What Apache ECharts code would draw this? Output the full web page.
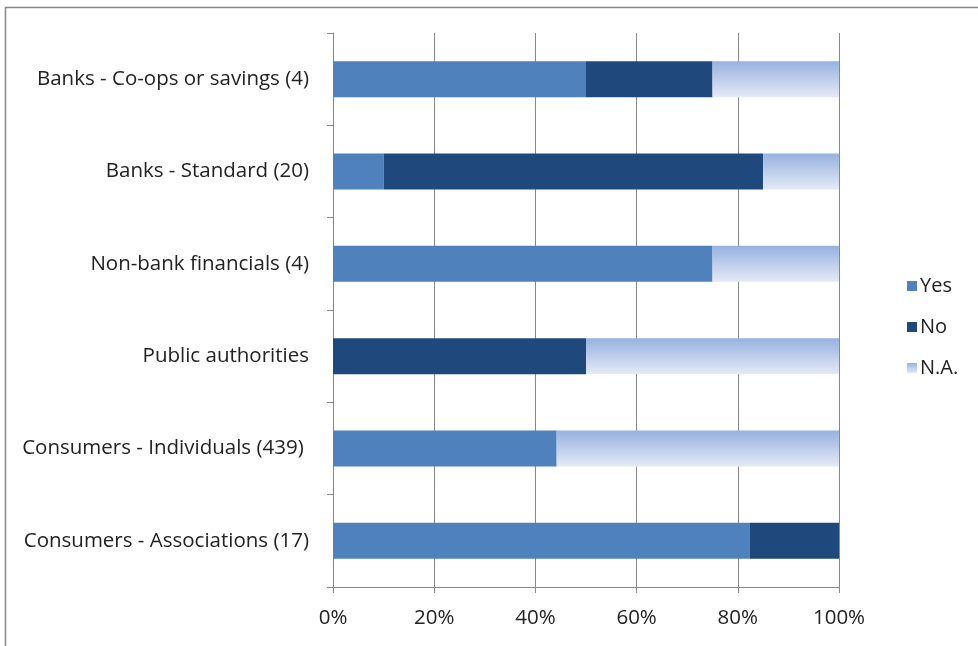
<!DOCTYPE html>
<html><head><meta charset="utf-8">
<script src="https://cdn.jsdelivr.net/npm/echarts@6/dist/echarts.min.js"></script>
<style>html,body{margin:0;padding:0;background:#fff}#c{width:978px;height:646px}</style>
</head><body><div id="c"></div>
<script>
const categories = ["Consumers - Associations (17)", "Consumers - Individuals (439) ", "Public authorities", "Non-bank financials (4)", "Banks - Standard (20)", "Banks - Co-ops or savings (4)"];
const yesValues = [82.4, 44.2, 0, 75, 10, 50];
const noValues = [17.6, 0, 50, 0, 75, 25];
const naValues = [0, 55.8, 50, 25, 15, 25];
const xTicks = [0, 20, 40, 60, 80, 100];

const FONT = "Open Sans";
const FS = 20.5;
const chart = echarts.init(document.getElementById('c'));
const naGrad = new echarts.graphic.LinearGradient(0, 0, 0, 1, [
  {offset: 0, color: '#97B1E0'}, {offset: 1, color: '#E4EAF6'}]);
chart.setOption({
  animation: false,
  textStyle: {fontFamily: FONT},
  graphic: [{type: 'rect', shape: {x: 5.5, y: 7.5, width: 1000, height: 700},
    style: {fill: 'none', stroke: '#868686', lineWidth: 1.5}, silent: true, z: -10}],
  grid: {left: 333, right: 139, top: 33, bottom: 59},
  legend: {
    orient: 'vertical', left: 902, top: 271, itemGap: 21,
    itemWidth: 10, itemHeight: 10, icon: 'rect',
    textStyle: {fontFamily: FONT, fontSize: 20, color: '#222', padding: [0, 0, 0, -2], lineHeight: 20},
    data: ['Yes', 'No', 'N.A.']
  },
  xAxis: {
    type: 'value', min: 0, max: 100, interval: 20,
    axisLine: {show: true, lineStyle: {color: '#878787', width: 1}},
    axisTick: {show: true, length: 6, lineStyle: {color: '#878787'}},
    splitLine: {show: true, lineStyle: {color: '#878787', width: 1}},
    axisLabel: {fontFamily: FONT, fontSize: FS, color: '#222', margin: 21,
      formatter: v => xTicks.includes(v) ? v + '%' : ''}
  },
  yAxis: {
    type: 'category', data: categories,
    axisLine: {show: true, lineStyle: {color: '#878787'}},
    axisTick: {show: true, length: 6, alignWithLabel: false, lineStyle: {color: '#878787'}},
    axisLabel: {fontFamily: FONT, fontSize: FS, color: '#222', margin: 24}
  },
  series: [
    {name: 'Yes', type: 'bar', stack: 's', data: yesValues, barWidth: '39%', itemStyle: {color: '#4F81BD'}},
    {name: 'No', type: 'bar', stack: 's', data: noValues, itemStyle: {color: '#1F497D'}},
    {name: 'N.A.', type: 'bar', stack: 's', data: naValues, itemStyle: {color: naGrad}}
  ]
});
</script></body></html>
